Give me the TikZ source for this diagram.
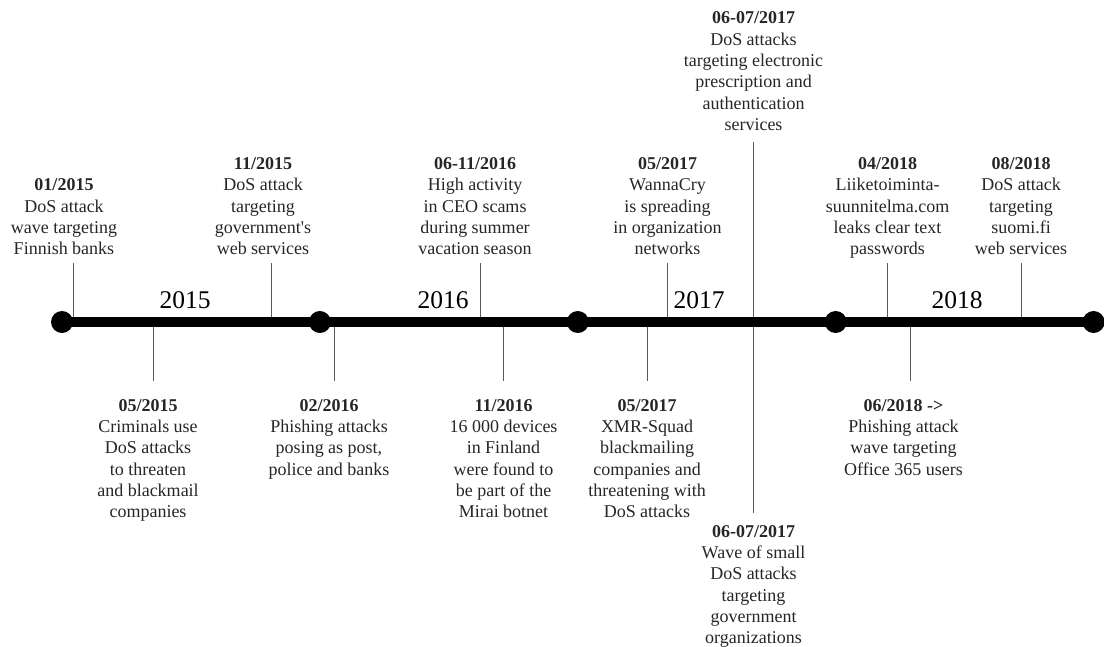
\documentclass[tikz,border=0pt]{standalone}
\usepackage{fontspec}
\setmainfont{Liberation Serif}
\usetikzlibrary{positioning}

\begin{document}
\begin{tikzpicture}[
  x=1pt, y=-1pt,
  node distance=235.5pt,
  dot/.style={circle, fill=black, minimum size=22pt, inner sep=0pt},
  timeline/.style={line width=10pt},
  tick/.style={draw=black!65, line width=1pt},
  year/.style={anchor=base, inner sep=0pt, font={\fontsize{25.5}{30}\selectfont}},
  uplabel/.style={anchor=south, align=center, inner xsep=0pt, inner ysep=8pt,
                  text depth=0pt, text=black!85, font={\fontsize{18}{21.3}\selectfont}},
  downlabel/.style={anchor=north, align=center, inner xsep=0pt, inner ysep=18pt,
                    text=black!85, font={\fontsize{18}{21.3}\selectfont}}
]
  \useasboundingbox (0,0) rectangle (1104,646);

  % events above the line
  \node[uplabel] (jan15) at (64,263) {\textbf{01/2015}\\DoS attack\\wave targeting\\Finnish banks};
  \node[uplabel] (nov15) at (263,263) {\textbf{11/2015}\\DoS attack\\targeting\\government\textquotesingle s\\web services};
  \node[uplabel] (jun16) at (475,263) {\textbf{06-11/2016}\\High activity\\in CEO scams\\during summer\\vacation season};
  \node[uplabel] (may17a) at (667.5,263) {\textbf{05/2017}\\WannaCry\\is spreading\\in organization\\networks};
  \node[uplabel, inner ysep=11.5pt] (jun17a) at (753.5,142) {\textbf{06-07/2017}\\DoS attacks\\targeting electronic\\prescription and\\authentication\\services};
  \node[uplabel] (apr18) at (887.5,263) {\textbf{04/2018}\\Liiketoiminta-\\suunnitelma.com\\leaks clear text\\passwords};
  \node[uplabel] (aug18) at (1021,263) {\textbf{08/2018}\\DoS attack\\targeting\\suomi.fi\\web services};

  % events below the line
  \node[downlabel] (may15) at (148,381) {\textbf{05/2015}\\Criminals use\\DoS attacks\\to threaten\\and blackmail\\companies};
  \node[downlabel] (feb16) at (329,381) {\textbf{02/2016}\\Phishing attacks\\posing as post,\\police and banks};
  \node[downlabel] (nov16) at (503.5,381) {\textbf{11/2016}\\16 000 devices\\in Finland\\were found to\\be part of the\\Mirai botnet};
  \node[downlabel] (may17b) at (647,381) {\textbf{05/2017}\\XMR-Squad\\blackmailing\\companies and\\threatening with\\DoS attacks};
  \node[downlabel, inner ysep=12pt] (jun17b) at (753.5,513) {\textbf{06-07/2017}\\Wave of small\\DoS attacks\\targeting\\government\\organizations};
  \node[downlabel] (jun18) at (903.5,381) {\textbf{06/2018 ->}\\Phishing attack\\wave targeting\\Office 365 users};

  % tick points on the line
  \coordinate (jan15t) at (73,322);
  \coordinate (nov15t) at (271,322);
  \coordinate (jun16t) at (480,322);
  \coordinate (may17at) at (667,322);
  \coordinate (apr18t) at (887,322);
  \coordinate (aug18t) at (1021,322);
  \coordinate (may15t) at (153,322);
  \coordinate (feb16t) at (334,322);
  \coordinate (nov16t) at (503,322);
  \coordinate (may17bt) at (647,322);
  \coordinate (jun18t) at (910,322);

  \draw[tick] (jan15t) -- (jan15t |- jan15.south);
  \draw[tick] (nov15t) -- (nov15t |- nov15.south);
  \draw[tick] (jun16t) -- (jun16t |- jun16.south);
  \draw[tick] (may17at) -- (may17at |- may17a.south);
  \draw[tick] (apr18t) -- (apr18t |- apr18.south);
  \draw[tick] (aug18t) -- (aug18t |- aug18.south);
  \draw[tick] (may15t) -- (may15t |- may15.north);
  \draw[tick] (feb16t) -- (feb16t |- feb16.north);
  \draw[tick] (nov16t) -- (nov16t |- nov16.north);
  \draw[tick] (may17bt) -- (may17bt |- may17b.north);
  \draw[tick] (jun18t) -- (jun18t |- jun18.north);
  \draw[tick] (jun17a.south) -- (jun17a.south |- jun17b.north);

  % the timeline
  \node[dot] (d2015) at (62,322) {};
  \node[dot, right=of d2015] (d2016) {};
  \node[dot, right=of d2016] (d2017) {};
  \node[dot, right=of d2017] (d2018) {};
  \node[dot, right=of d2018] (dend) {};
  \draw[timeline] (d2015.center) -- (dend.center);

  \node[year] (y2015) at (185,308) {2015};
  \node[year] (y2016) at (443,308) {2016};
  \node[year] (y2017) at (699,308) {2017};
  \node[year] (y2018) at (957,308) {2018};
\end{tikzpicture}
\end{document}
